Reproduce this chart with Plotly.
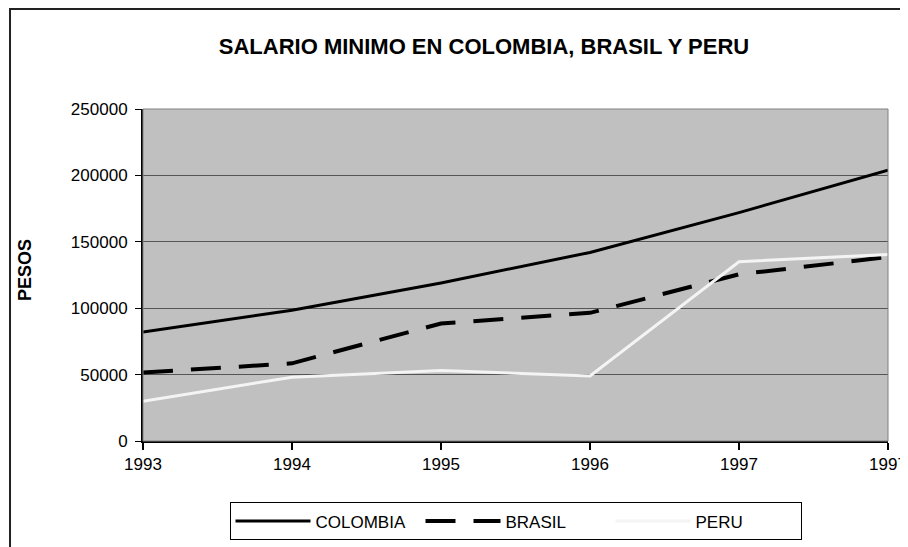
"""
Salario minimo en Colombia, Brasil y Peru (1993-1997).
"""

import plotly.graph_objects as go

# x positions are categories; the original repeats the last 1997 label
years = ["1993", "1994", "1995", "1996", "1997", "1997"]
colombia = [82000, 98500, 119000, 142000, 172000, 204000]
brasil = [51500, 58500, 88500, 96500, 125500, 138500]
peru = [30000, 48000, 53000, 49000, 135000, 140500]

x_idx = list(range(len(years)))

FONT = "Liberation Sans, Arial, sans-serif"

fig = go.Figure()

fig.add_trace(go.Scatter(
    x=x_idx, y=colombia, mode="lines", name="COLOMBIA",
    line=dict(color="#000000", width=3),
))
fig.add_trace(go.Scatter(
    x=x_idx, y=brasil, mode="lines", name="BRASIL",
    line=dict(color="#000000", width=4, dash="30px,18px"),
))
fig.add_trace(go.Scatter(
    x=x_idx, y=peru, mode="lines", name="PERU",
    line=dict(color="#f4f4f4", width=3),
))

# outer frame around the whole chart (right and bottom run off the picture)
fig.add_shape(
    type="rect", xref="paper", yref="paper",
    x0=-0.1785, x1=1.2, y0=-0.5, y1=1.301,
    line=dict(color="#222222", width=2), fillcolor="rgba(0,0,0,0)",
    layer="below",
)
# grey border on top/right of the plot area
fig.add_shape(
    type="rect", xref="paper", yref="paper",
    x0=0, x1=1, y0=0, y1=1,
    line=dict(color="#808080", width=1), fillcolor="rgba(0,0,0,0)",
)

fig.add_annotation(
    text="<b>PESOS</b>", xref="paper", yref="paper",
    x=-0.1584, y=0.515, xanchor="center", yanchor="middle",
    textangle=-90, showarrow=False,
    font=dict(family=FONT, size=18, color="#000000"),
)

# the page body adds an 8px margin, so everything is shifted by 8px
fig.update_layout(
    width=900, height=539,
    margin=dict(l=135, r=20, t=101, b=106),
    paper_bgcolor="white",
    plot_bgcolor="#c0c0c0",
    font=dict(family=FONT, size=17, color="#000000"),
    title=dict(
        text="<b>SALARIO MINIMO EN COLOMBIA, BRASIL Y PERU</b>",
        font=dict(family=FONT, size=22, color="#000000"),
        x=0.5289, xanchor="center", y=0.9286, yanchor="middle",
    ),
    xaxis=dict(
        range=[0, 5],
        tickmode="array", tickvals=x_idx, ticktext=years,
        showgrid=False, zeroline=False,
        showline=True, linecolor="#000000", linewidth=2,
        ticks="outside", ticklen=7, tickcolor="#000000", tickwidth=2,
        tickfont=dict(size=17),
        ticklabeloverflow="allow",
        automargin=False,
    ),
    yaxis=dict(
        range=[0, 250000], dtick=50000, tickformat="d",
        showgrid=True, gridcolor="#555555", gridwidth=1,
        zeroline=False,
        showline=True, linecolor="#000000", linewidth=2,
        ticks="outside", ticklen=6, tickcolor="#000000", tickwidth=1,
        tickfont=dict(size=17),
        ticklabelstandoff=4,
        automargin=False,
    ),
    legend=dict(
        orientation="h",
        xref="paper", x=0.5, xanchor="center",
        yref="container", y=0.0826, yanchor="top",
        bordercolor="#000000", borderwidth=1,
        bgcolor="white",
        itemwidth=75,
        entrywidth=100,
        font=dict(size=17),
    ),
    showlegend=True,
)

fig.write_html("out.html")
